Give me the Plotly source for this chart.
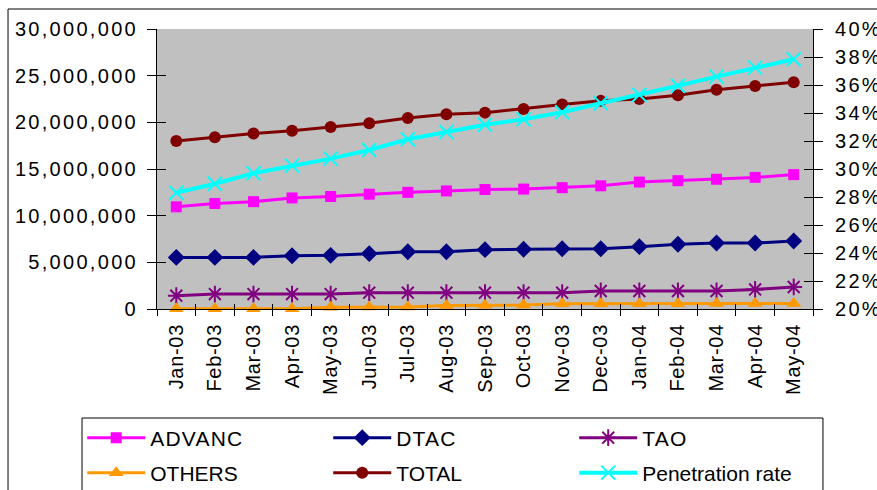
import plotly.graph_objects as go

months = ["Jan-03", "Feb-03", "Mar-03", "Apr-03", "May-03", "Jun-03", "Jul-03",
          "Aug-03", "Sep-03", "Oct-03", "Nov-03", "Dec-03", "Jan-04", "Feb-04",
          "Mar-04", "Apr-04", "May-04"]

advanc = [10.95e6, 11.3e6, 11.5e6, 11.9e6, 12.05e6, 12.3e6, 12.5e6, 12.65e6, 12.8e6,
          12.85e6, 13.0e6, 13.2e6, 13.6e6, 13.75e6, 13.9e6, 14.1e6, 14.4e6]
dtac = [5.53e6, 5.53e6, 5.53e6, 5.7e6, 5.75e6, 5.93e6, 6.14e6, 6.14e6, 6.36e6,
        6.4e6, 6.46e6, 6.46e6, 6.68e6, 6.93e6, 7.07e6, 7.07e6, 7.29e6]
tao = [1.43e6, 1.6e6, 1.6e6, 1.6e6, 1.6e6, 1.75e6, 1.75e6, 1.75e6, 1.75e6,
       1.75e6, 1.75e6, 1.93e6, 1.93e6, 1.93e6, 1.93e6, 2.1e6, 2.36e6]
others = [0.02e6, 0.02e6, 0.02e6, 0.02e6, 0.18e6, 0.22e6, 0.22e6, 0.38e6, 0.4e6,
          0.42e6, 0.55e6, 0.56e6, 0.57e6, 0.57e6, 0.58e6, 0.58e6, 0.6e6]
total = [18.0e6, 18.4e6, 18.8e6, 19.1e6, 19.5e6, 19.9e6, 20.46e6, 20.86e6, 21.04e6,
         21.43e6, 21.9e6, 22.3e6, 22.5e6, 22.9e6, 23.5e6, 23.9e6, 24.3e6]
penetration = [0.283, 0.2895, 0.297, 0.3024, 0.3074, 0.3136, 0.3212, 0.3264, 0.3316,
               0.3355, 0.3405, 0.347, 0.353, 0.3595, 0.366, 0.3724, 0.3784]

FONT = "Liberation Sans, Arial, sans-serif"

fig = go.Figure()

series = [
    ("ADVANC", advanc, "#FF00FF", "square", 11, 3, "y", "legend"),
    ("DTAC", dtac, "#000080", "diamond", 13, 3, "y", "legend"),
    ("TAO", tao, "#800080", "asterisk-open", 14, 3, "y", "legend"),
    ("OTHERS", others, "#FF9900", "triangle-up", 13, 3, "y", "legend2"),
    ("TOTAL", total, "#800000", "circle", 12, 3, "y", "legend2"),
    ("Penetration rate", penetration, "#00FFFF", "x-thin-open", 14, 4, "y2", "legend2"),
]

for name, vals, color, sym, size, lw, yax, leg in series:
    open_sym = sym.endswith("-open")
    fig.add_trace(go.Scatter(
        x=months, y=vals, name=name, mode="lines+markers", yaxis=yax, legend=leg,
        line=dict(color=color, width=lw),
        marker=dict(symbol=sym, size=size, color=color,
                    line=dict(color=color, width=2 if open_sym else 0)),
        cliponaxis=False,
    ))

# empty helper traces so the inside-tick overlay axes are drawn
fig.add_trace(go.Scatter(x=[], y=[], xaxis="x2", yaxis="y3", showlegend=False, hoverinfo="skip"))
fig.add_trace(go.Scatter(x=[], y=[], xaxis="x2", yaxis="y4", showlegend=False, hoverinfo="skip"))

tickfont = dict(family=FONT, size=20, color="black")
legfont = dict(family=FONT, size=21, color="black")

fig.update_layout(
    width=877, height=490,
    margin=dict(l=157, r=64, t=29, b=181, autoexpand=False),
    paper_bgcolor="white",
    plot_bgcolor="#C0C0C0",
    xaxis=dict(type="category", categoryorder="array", categoryarray=months,
               range=[-0.5, 16.5], tickangle=-90, tickfont=tickfont,
               showline=True, linecolor="black", linewidth=1,
               ticks="outside", ticklen=6, tickcolor="black", tickson="boundaries",
               ticklabelstandoff=6,
               showgrid=False, zeroline=False, anchor="y"),
    xaxis2=dict(type="category", categoryorder="array", categoryarray=months,
                range=[-0.5, 16.5], overlaying="x", anchor="y3",
                ticks="inside", ticklen=5, tickcolor="black", tickson="boundaries",
                showticklabels=False, showgrid=False, zeroline=False, showline=False),
    yaxis=dict(range=[0, 30e6], dtick=5e6, tickformat=",d", tickfont=tickfont,
               showline=True, linecolor="black", linewidth=1,
               ticks="outside", ticklen=9, tickcolor="black", ticklabelstandoff=5,
               showgrid=False, zeroline=False),
    yaxis2=dict(range=[0.20, 0.40], dtick=0.02, tickformat=".0%", tickfont=tickfont,
                overlaying="y", side="right", anchor="x",
                showline=True, linecolor="black", linewidth=1,
                ticks="outside", ticklen=9, tickcolor="black", ticklabelstandoff=8,
                showgrid=False, zeroline=False),
    yaxis3=dict(range=[0, 30e6], dtick=5e6, overlaying="y", side="left", anchor="x2",
                ticks="inside", ticklen=9, tickcolor="black", showticklabels=False,
                showgrid=False, zeroline=False, showline=False),
    yaxis4=dict(range=[0.20, 0.40], dtick=0.02, overlaying="y", side="right", anchor="x2",
                ticks="inside", ticklen=9, tickcolor="black", showticklabels=False,
                showgrid=False, zeroline=False, showline=False),
    legend=dict(orientation="h", x=-0.114, xanchor="left", y=-0.4607, yanchor="middle",
                font=legfont, itemwidth=58, entrywidth=173, bgcolor="rgba(0,0,0,0)",
                borderwidth=0, traceorder="normal"),
    legend2=dict(orientation="h", x=-0.114, xanchor="left", y=-0.5857, yanchor="middle",
                 font=legfont, itemwidth=58, entrywidth=173, bgcolor="rgba(0,0,0,0)",
                 borderwidth=0, traceorder="normal"),
    shapes=[
        dict(type="rect", xref="paper", yref="paper", x0=-0.2271, x1=1.2,
             y0=-0.9, y1=1.0714, line=dict(color="black", width=1), layer="below"),
        dict(type="rect", xref="paper", yref="paper", x0=-0.1143, x1=1.0152,
             y0=-0.9, y1=-0.3893, line=dict(color="black", width=1), layer="below"),
    ],
    showlegend=True,
)

post = """
document.body.style.margin = '0';
document.body.style.overflow = 'hidden';
var gd = document.getElementById('{plot_id}');
function spaceText(){
  gd.querySelectorAll('g.ytick text, g.y2tick text').forEach(function(t){ t.style.letterSpacing = '2.3px'; });
  gd.querySelectorAll('g.xtick text').forEach(function(t){ t.style.letterSpacing = '0.7px'; });
  gd.querySelectorAll('text.legendtext').forEach(function(t){ t.style.letterSpacing = '1.2px'; });
}
spaceText();
gd.on('plotly_afterplot', spaceText);
"""

fig.write_html("out.html", post_script=post, config={"displayModeBar": False})
